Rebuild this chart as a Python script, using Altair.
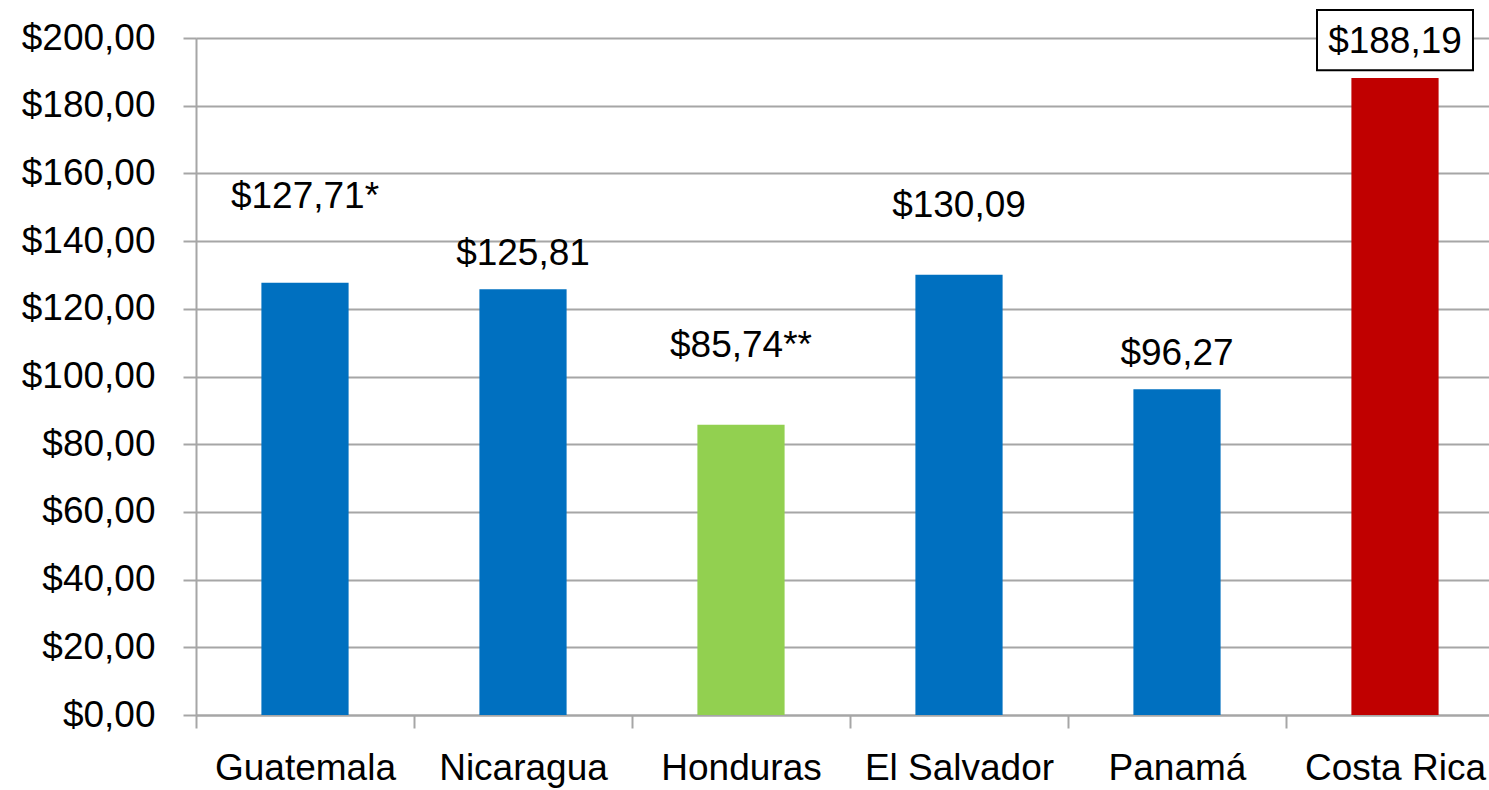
import altair as alt
import pandas as pd

countries = ["Guatemala", "Nicaragua", "Honduras", "El Salvador", "Panamá", "Costa Rica"]
values = [127.71, 125.81, 85.74, 130.09, 96.27, 188.19]
labels = ["$127,71*", "$125,81", "$85,74**", "$130,09", "$96,27", "$188,19"]
# where each value label sits (data units, baseline of the text)
label_y = [149.8, 132.9, 105.8, 147.1, 103.4, 195.6]
bar_colors = ["#0070C0", "#0070C0", "#92D050", "#0070C0", "#0070C0", "#C00000"]
y_ticks = [0, 20, 40, 60, 80, 100, 120, 140, 160, 180, 200]

df = pd.DataFrame({
    "country": countries,
    "value": values,
    "label": labels,
    "label_y": label_y,
})

FONT = "Liberation Sans"
GRID = "#A6A6A6"

x_enc = alt.X(
    "country:N",
    sort=countries,
    scale=alt.Scale(range=[0, 1308], paddingInner=0.6, paddingOuter=0.3),
    axis=alt.Axis(
        title=None,
        labelAngle=0,
        labelFont=FONT,
        labelFontSize=37,
        labelColor="#000000",
        labelPadding=22,
        labelLimit=0,
        tickOffset=-109,
        labelOffset=109,
        tickSize=13,
        tickColor=GRID,
        tickWidth=2,
        domainColor=GRID,
        domainWidth=2,
        grid=False,
    ),
)

bars = alt.Chart(df).mark_bar().encode(
    x=x_enc,
    y=alt.Y(
        "value:Q",
        scale=alt.Scale(domain=[0, 200], nice=False),
        axis=alt.Axis(
            title=None,
            values=y_ticks,
            labelExpr='"$" + replace(format(datum.value, ".2f"), ".", ",")',
            labelFont=FONT,
            labelFontSize=37,
            labelColor="#000000",
            labelPadding=28,
            tickSize=13,
            tickColor=GRID,
            tickWidth=2,
            domainColor=GRID,
            domainWidth=2,
            gridColor=GRID,
            gridWidth=2,
        ),
    ),
    color=alt.Color("country:N", scale=alt.Scale(domain=countries, range=bar_colors), legend=None),
)

box = alt.Chart(df).transform_filter(
    alt.datum.country == "Costa Rica"
).mark_bar(size=156, fill="white", stroke="black", strokeWidth=2).encode(
    x=alt.X("country:N", sort=countries),
    y=alt.datum(208.3),
    y2=alt.datum(190.5),
)

texts = alt.Chart(df).mark_text(
    font=FONT, fontSize=37, color="#000000", baseline="alphabetic", align="center"
).encode(
    x=alt.X("country:N", sort=countries),
    y="label_y:Q",
    text="label:N",
)

chart = alt.layer(bars, box, texts).properties(
    width=1293,
    height=677,
    padding={"left": 196, "top": 38, "right": 0, "bottom": 75},
    autosize=alt.AutoSizeParams(type="none"),
).configure_view(stroke=None).configure(background="white")

chart.save("out.html", embed_options={"renderer": "svg", "actions": False})
